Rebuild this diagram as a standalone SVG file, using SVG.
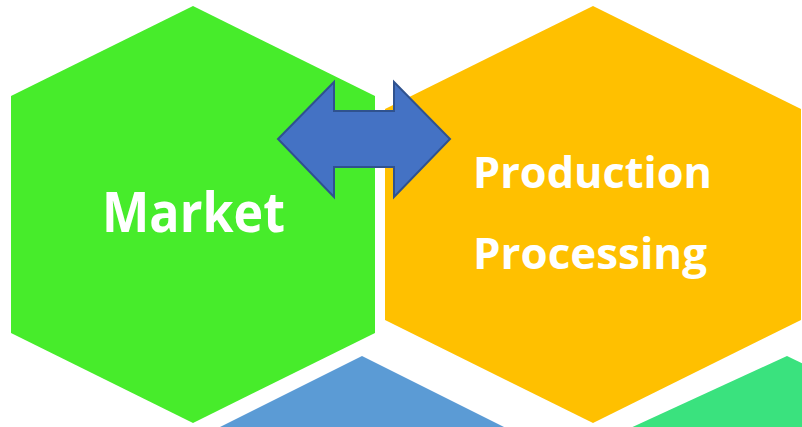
<svg xmlns="http://www.w3.org/2000/svg" width="802" height="427" viewBox="0 0 802 427">
<style>
.lbl{font-family:"Open Sans","Noto Sans","Liberation Sans",sans-serif;font-weight:bold;fill:#ffffff;text-anchor:middle}
</style>
<rect width="802" height="427" fill="#ffffff"/>
<g id="hex-blue">
<polygon points="362,356 510,430 214,430" fill="#5B9BD5"/>
</g>
<g id="hex-teal">
<polygon points="787,356 820,372 820,430 626,430" fill="#3AE27E"/>
</g>
<g id="market">
<polygon points="193,6 375,96 375,333 193,423 11,333 11,96" fill="#47EC2B"/>
<text class="lbl" x="193.5" y="232" font-size="55" textLength="183" lengthAdjust="spacingAndGlyphs">Market</text>
</g>
<g id="production">
<polygon points="593,6 801,109 801,320 593,423 385,320 385,109" fill="#FFC000"/>
<text class="lbl" x="592.5" y="188" font-size="43" textLength="239" lengthAdjust="spacingAndGlyphs">Production</text>
<text class="lbl" x="590" y="269" font-size="43" textLength="234" lengthAdjust="spacingAndGlyphs">Processing</text>
</g>
<g id="connectors">
<polygon points="278,139 334,82 334,111 394,111 394,82 450,139 394,197 394,167 334,167 334,197" fill="#4472C4" stroke="#2F528F" stroke-width="2" stroke-linejoin="miter"/>
</g>
</svg>
